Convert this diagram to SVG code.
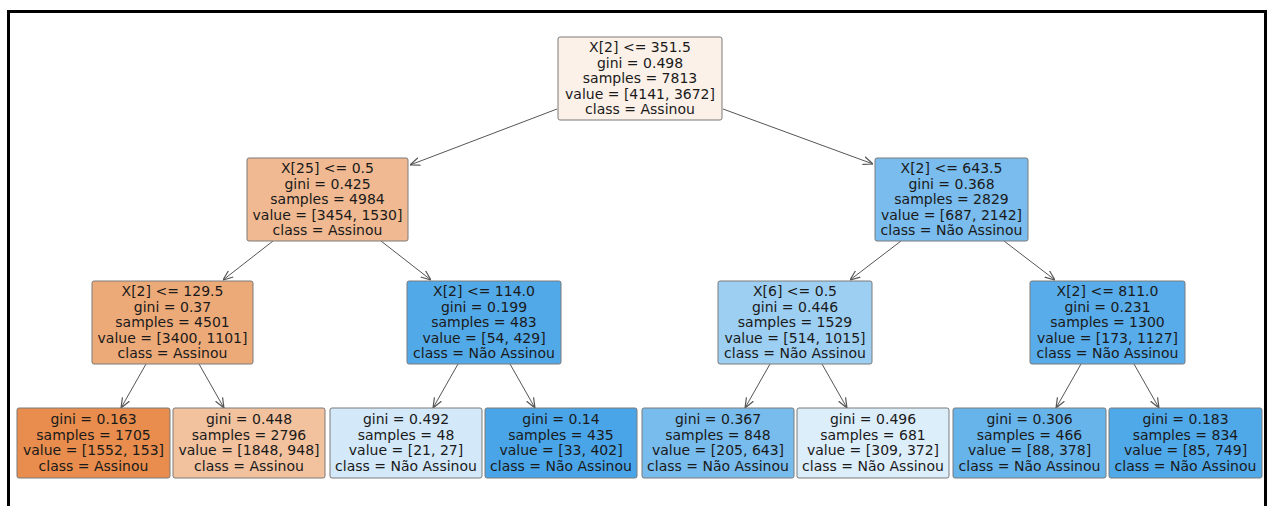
<svg xmlns="http://www.w3.org/2000/svg" width="1271" height="506" viewBox="0 0 1271 506">
<style>
.bg{fill:#ffffff}
.frame{stroke:#000;stroke-width:3;fill:none}
.box{stroke:#7a7a7a;stroke-width:1}
.t{font-family:"DejaVu Sans",sans-serif;font-size:14px;fill:#1a1a1a;text-anchor:middle}
.edge{stroke:#555;stroke-width:1;fill:none;marker-end:url(#arr)}
</style>
<defs>
<marker id="arr" viewBox="0 0 10 10" refX="10" refY="5" markerWidth="10" markerHeight="10" markerUnits="userSpaceOnUse" orient="auto">
<path d="M0,1 L10,5 L0,9" fill="none" stroke="#555" stroke-width="1.2"/>
</marker>
</defs>
<rect class="bg" x="0" y="0" width="1271" height="506"/>
<path class="frame" d="M8.5,506 V11.5 H1265.5 V506"/>
<g id="connectors">
<line class="edge" x1="557" y1="109" x2="410" y2="165"/>
<line class="edge" x1="723" y1="109" x2="873" y2="164"/>
<line class="edge" x1="273" y1="241" x2="223" y2="280"/>
<line class="edge" x1="381" y1="241" x2="431" y2="280"/>
<line class="edge" x1="901" y1="241" x2="850" y2="280"/>
<line class="edge" x1="1004" y1="241" x2="1055" y2="280"/>
<line class="edge" x1="146" y1="364" x2="121" y2="408"/>
<line class="edge" x1="199" y1="364" x2="224" y2="408"/>
<line class="edge" x1="458" y1="364" x2="433" y2="408"/>
<line class="edge" x1="510" y1="364" x2="535" y2="408"/>
<line class="edge" x1="770" y1="364" x2="745" y2="408"/>
<line class="edge" x1="822" y1="364" x2="847" y2="408"/>
<line class="edge" x1="1081" y1="364" x2="1056" y2="408"/>
<line class="edge" x1="1134" y1="364" x2="1159" y2="408"/>
</g>
<g id="root">
<rect class="box" x="558" y="37" width="164" height="83" rx="2" fill="#fcf1e9"/>
<text class="t" x="640" y="52">X[2] &lt;= 351.5</text>
<text class="t" x="640" y="67.5">gini = 0.498</text>
<text class="t" x="640" y="83">samples = 7813</text>
<text class="t" x="640" y="98.5">value = [4141, 3672]</text>
<text class="t" x="640" y="114">class = Assinou</text>
</g>
<g id="n1">
<rect class="box" x="247" y="158" width="161" height="83" rx="2" fill="#f0b991"/>
<text class="t" x="327.5" y="173">X[25] &lt;= 0.5</text>
<text class="t" x="327.5" y="188.5">gini = 0.425</text>
<text class="t" x="327.5" y="204">samples = 4984</text>
<text class="t" x="327.5" y="219.5">value = [3454, 1530]</text>
<text class="t" x="327.5" y="235">class = Assinou</text>
</g>
<g id="n2">
<rect class="box" x="875" y="158" width="153" height="83" rx="2" fill="#79bced"/>
<text class="t" x="951.5" y="173">X[2] &lt;= 643.5</text>
<text class="t" x="951.5" y="188.5">gini = 0.368</text>
<text class="t" x="951.5" y="204">samples = 2829</text>
<text class="t" x="951.5" y="219.5">value = [687, 2142]</text>
<text class="t" x="951.5" y="235">class = Não Assinou</text>
</g>
<g id="n3">
<rect class="box" x="92" y="281" width="161" height="83" rx="2" fill="#edaa79"/>
<text class="t" x="172.5" y="296">X[2] &lt;= 129.5</text>
<text class="t" x="172.5" y="311.5">gini = 0.37</text>
<text class="t" x="172.5" y="327">samples = 4501</text>
<text class="t" x="172.5" y="342.5">value = [3400, 1101]</text>
<text class="t" x="172.5" y="358">class = Assinou</text>
</g>
<g id="n4">
<rect class="box" x="407" y="281" width="154" height="83" rx="2" fill="#52a9e8"/>
<text class="t" x="484" y="296">X[2] &lt;= 114.0</text>
<text class="t" x="484" y="311.5">gini = 0.199</text>
<text class="t" x="484" y="327">samples = 483</text>
<text class="t" x="484" y="342.5">value = [54, 429]</text>
<text class="t" x="484" y="358">class = Não Assinou</text>
</g>
<g id="n5">
<rect class="box" x="718" y="281" width="154" height="83" rx="2" fill="#9dcff2"/>
<text class="t" x="795" y="296">X[6] &lt;= 0.5</text>
<text class="t" x="795" y="311.5">gini = 0.446</text>
<text class="t" x="795" y="327">samples = 1529</text>
<text class="t" x="795" y="342.5">value = [514, 1015]</text>
<text class="t" x="795" y="358">class = Não Assinou</text>
</g>
<g id="n6">
<rect class="box" x="1030" y="281" width="155" height="83" rx="2" fill="#57ace9"/>
<text class="t" x="1107.5" y="296">X[2] &lt;= 811.0</text>
<text class="t" x="1107.5" y="311.5">gini = 0.231</text>
<text class="t" x="1107.5" y="327">samples = 1300</text>
<text class="t" x="1107.5" y="342.5">value = [173, 1127]</text>
<text class="t" x="1107.5" y="358">class = Não Assinou</text>
</g>
<g id="leaf1">
<rect class="box" x="17" y="408" width="153" height="70" rx="2" fill="#e88d4d"/>
<text class="t" x="93.5" y="424">gini = 0.163</text>
<text class="t" x="93.5" y="439.5">samples = 1705</text>
<text class="t" x="93.5" y="455">value = [1552, 153]</text>
<text class="t" x="93.5" y="470.5">class = Assinou</text>
</g>
<g id="leaf2">
<rect class="box" x="173" y="408" width="152" height="70" rx="2" fill="#f2c29f"/>
<text class="t" x="249" y="424">gini = 0.448</text>
<text class="t" x="249" y="439.5">samples = 2796</text>
<text class="t" x="249" y="455">value = [1848, 948]</text>
<text class="t" x="249" y="470.5">class = Assinou</text>
</g>
<g id="leaf3">
<rect class="box" x="330" y="408" width="152" height="70" rx="2" fill="#d3e9f9"/>
<text class="t" x="406" y="424">gini = 0.492</text>
<text class="t" x="406" y="439.5">samples = 48</text>
<text class="t" x="406" y="455">value = [21, 27]</text>
<text class="t" x="406" y="470.5">class = Não Assinou</text>
</g>
<g id="leaf4">
<rect class="box" x="485" y="408" width="152" height="70" rx="2" fill="#49a5e7"/>
<text class="t" x="561" y="424">gini = 0.14</text>
<text class="t" x="561" y="439.5">samples = 435</text>
<text class="t" x="561" y="455">value = [33, 402]</text>
<text class="t" x="561" y="470.5">class = Não Assinou</text>
</g>
<g id="leaf5">
<rect class="box" x="642" y="408" width="152" height="70" rx="2" fill="#78bced"/>
<text class="t" x="718" y="424">gini = 0.367</text>
<text class="t" x="718" y="439.5">samples = 848</text>
<text class="t" x="718" y="455">value = [205, 643]</text>
<text class="t" x="718" y="470.5">class = Não Assinou</text>
</g>
<g id="leaf6">
<rect class="box" x="797" y="408" width="152" height="70" rx="2" fill="#ddeefb"/>
<text class="t" x="873" y="424">gini = 0.496</text>
<text class="t" x="873" y="439.5">samples = 681</text>
<text class="t" x="873" y="455">value = [309, 372]</text>
<text class="t" x="873" y="470.5">class = Não Assinou</text>
</g>
<g id="leaf7">
<rect class="box" x="953" y="408" width="153" height="70" rx="2" fill="#67b4eb"/>
<text class="t" x="1029.5" y="424">gini = 0.306</text>
<text class="t" x="1029.5" y="439.5">samples = 466</text>
<text class="t" x="1029.5" y="455">value = [88, 378]</text>
<text class="t" x="1029.5" y="470.5">class = Não Assinou</text>
</g>
<g id="leaf8">
<rect class="box" x="1109" y="408" width="153" height="70" rx="2" fill="#4fa8e8"/>
<text class="t" x="1185.5" y="424">gini = 0.183</text>
<text class="t" x="1185.5" y="439.5">samples = 834</text>
<text class="t" x="1185.5" y="455">value = [85, 749]</text>
<text class="t" x="1185.5" y="470.5">class = Não Assinou</text>
</g>
</svg>
